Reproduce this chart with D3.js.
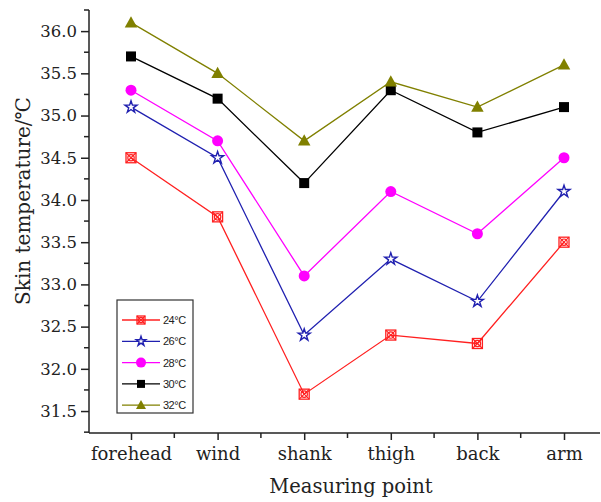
<!DOCTYPE html>
<html><head><meta charset="utf-8">
<script src="https://cdn.jsdelivr.net/npm/d3@7"></script>
<style>body{margin:0;background:#fff}svg{display:block}</style>
</head><body><svg id="c" width="601" height="502"></svg>
<script>
const categories = ["forehead","wind","shank","thigh","back","arm"];
const seriesNames = ["24°C","26°C","28°C","30°C","32°C"];
const s24 = [34.5,33.8,31.7,32.4,32.3,33.5];
const s26 = [35.1,34.5,32.4,33.3,32.8,34.1];
const s28 = [35.3,34.7,33.1,34.1,33.6,34.5];
const s30 = [35.7,35.2,34.2,35.3,34.8,35.1];
const s32 = [36.1,35.5,34.7,35.4,35.1,35.6];
const yTicks = [31.5,32.0,32.5,33.0,33.5,34.0,34.5,35.0,35.5,36.0];

(function(){
const series = [
  {name: seriesNames[0], values: s24, color: "#ff2020", marker: "sqx"},
  {name: seriesNames[1], values: s26, color: "#2020b0", marker: "star"},
  {name: seriesNames[2], values: s28, color: "#ff00ff", marker: "circle"},
  {name: seriesNames[3], values: s30, color: "#000000", marker: "square"},
  {name: seriesNames[4], values: s32, color: "#808000", marker: "triangle"}
];

const svg = d3.select("#c");
const mLeft = 89, mBottom = 433, mTop = 10, mRight = 600;
const x = d3.scalePoint().domain(categories).range([131, 564]);
const step = x.step();
const y = d3.scaleLinear().domain([31.24, 36.25]).range([mBottom, mTop]);

const serif = "'DejaVu Serif',serif";
const yAxis = svg.append("g").attr("transform", `translate(${mLeft},0)`)
  .call(d3.axisLeft(y).tickValues(yTicks).tickFormat(d3.format(".1f")).tickSizeOuter(0).tickSize(8));
yAxis.select(".domain").attr("d", `M0,${mTop}V${mBottom}`).attr("stroke", "#222").attr("stroke-width", 1.5);
yAxis.selectAll(".tick line").attr("stroke", "#222").attr("stroke-width", 1.5);
yAxis.selectAll(".tick text").attr("font-family", serif).attr("font-size", 16.5).attr("fill", "#222").attr("x", -12);
const yMinor = d3.range(31.25, 36.26, 0.5);
svg.append("g").selectAll("line").data(yMinor).join("line")
  .attr("x1", mLeft - 5).attr("x2", mLeft).attr("y1", d => y(d)).attr("y2", d => y(d))
  .attr("stroke", "#222").attr("stroke-width", 1.5);

const xAxis = svg.append("g").attr("transform", `translate(0,${mBottom})`)
  .call(d3.axisBottom(x).tickSizeOuter(0).tickSize(7));
xAxis.select(".domain").attr("d", `M${mLeft},0H${mRight}`).attr("stroke", "#222").attr("stroke-width", 1.5);
xAxis.selectAll(".tick line").attr("stroke", "#222").attr("stroke-width", 1.5);
xAxis.selectAll(".tick text").attr("font-family", serif).attr("font-size", 18).attr("fill", "#222")
  .attr("y", 14).attr("dy", "0.71em");
const xMinor = categories.map(c => x(c) + step / 2);
svg.append("g").selectAll("line").data(xMinor.filter(v => v < mRight)).join("line")
  .attr("x1", d => d).attr("x2", d => d).attr("y1", mBottom).attr("y2", mBottom + 5)
  .attr("stroke", "#222").attr("stroke-width", 1.5);

svg.append("text").attr("transform", `translate(30,201) rotate(-90)`)
  .attr("text-anchor", "middle").attr("font-family", serif).attr("font-size", 20).attr("fill", "#222")
  .text("Skin temperature/℃");
svg.append("text").attr("x", 351).attr("y", 493)
  .attr("text-anchor", "middle").attr("font-family", serif).attr("font-size", 19.5).attr("fill", "#222")
  .text("Measuring point");

function drawMarker(g, type, color, size) {
  const s = size;
  if (type === "sqx") {
    g.append("rect").attr("x", -s/2).attr("y", -s/2).attr("width", s).attr("height", s)
      .attr("fill", "none").attr("stroke", color).attr("stroke-width", 1.3);
    g.append("circle").attr("r", s*0.32).attr("fill", "none").attr("stroke", color).attr("stroke-width", 1.2);
    g.append("path").attr("d", `M${-s/2},${-s/2}L${s/2},${s/2}M${s/2},${-s/2}L${-s/2},${s/2}`)
      .attr("stroke", color).attr("stroke-width", 1.1);
  } else if (type === "star") {
    g.append("path").attr("d", d3.symbol(d3.symbolStar, s*s*0.45)()).attr("fill", "#fff")
      .attr("stroke", color).attr("stroke-width", 1.4);
  } else if (type === "circle") {
    g.append("circle").attr("r", s/2 + 0.5).attr("fill", color);
  } else if (type === "square") {
    g.append("rect").attr("x", -s/2).attr("y", -s/2).attr("width", s).attr("height", s).attr("fill", color);
  } else if (type === "triangle") {
    const h = s * 1.05, w = s * 1.25;
    g.append("path").attr("d", `M0,${-h*0.62}L${w/2},${h*0.45}L${-w/2},${h*0.45}Z`).attr("fill", color);
  }
}

const line = d3.line().x((d, i) => x(categories[i])).y(d => y(d));
series.forEach(s => {
  svg.append("path").datum(s.values).attr("d", line)
    .attr("fill", "none").attr("stroke", s.color).attr("stroke-width", 1.3);
});
series.forEach(s => {
  s.values.forEach((v, i) => {
    const g = svg.append("g").attr("transform", `translate(${x(categories[i])},${y(v)})`);
    drawMarker(g, s.marker, s.color, 10);
  });
});

const lg = svg.append("g");
lg.append("rect").attr("x", 117).attr("y", 300).attr("width", 76).attr("height", 113)
  .attr("fill", "#fff").attr("stroke", "#333").attr("stroke-width", 1.2);
series.forEach((s, i) => {
  const ly = 320 + i * 21.3;
  lg.append("line").attr("x1", 122).attr("x2", 160).attr("y1", ly).attr("y2", ly)
    .attr("stroke", s.color).attr("stroke-width", 1.3);
  const g = lg.append("g").attr("transform", `translate(141,${ly})`);
  drawMarker(g, s.marker, s.color, s.marker === "circle" ? 9 : 8);
  lg.append("text").attr("x", 163).attr("y", ly + 4).attr("font-family", "'Liberation Sans',Arial,sans-serif")
    .attr("font-size", 11).attr("fill", "#222").attr("letter-spacing", -0.5).text(s.name);
});
})();
</script></body></html>
